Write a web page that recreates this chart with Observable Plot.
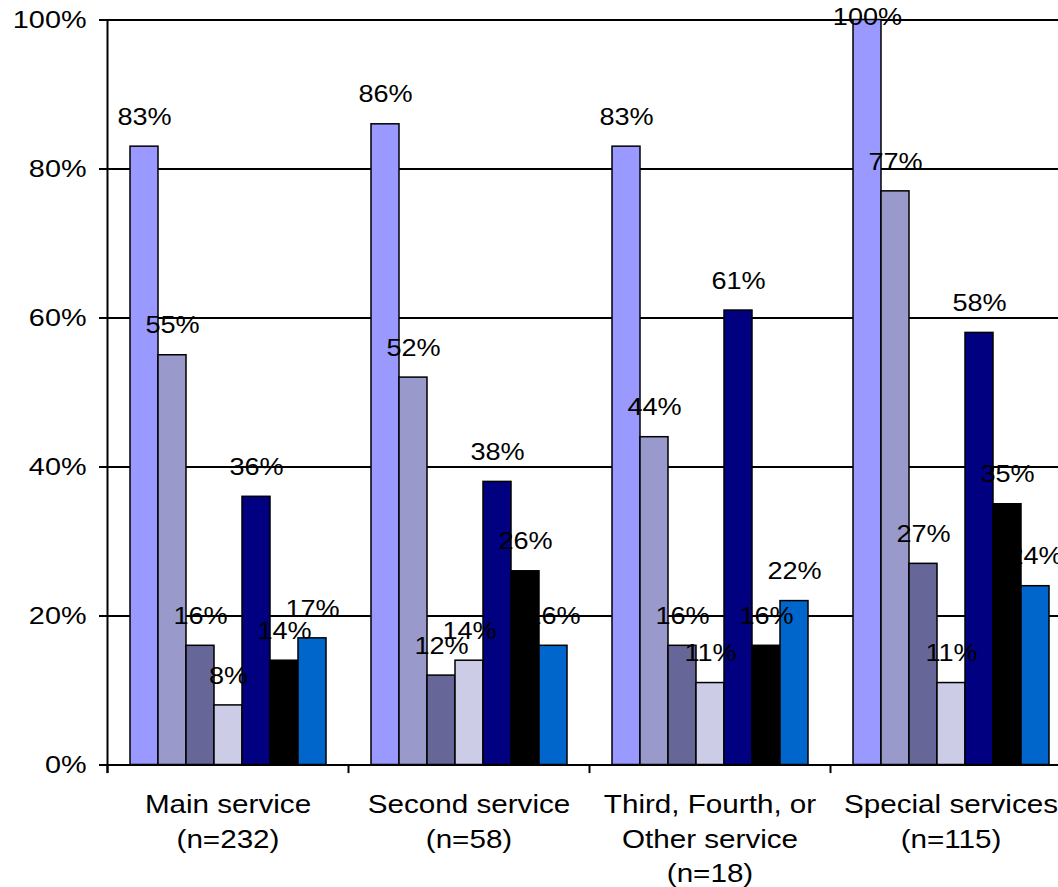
<!DOCTYPE html>
<html><head><meta charset="utf-8">
<script src="https://cdn.jsdelivr.net/npm/d3@7"></script>
<script src="https://cdn.jsdelivr.net/npm/@observablehq/plot@0.6"></script>
<style>html,body{margin:0;padding:0;overflow:hidden;background:#fff}</style>
</head><body><div id="chart"></div>
<script>
const groups = ["Main service", "Second service", "Third, Fourth, or Other service", "Special services"];
const groupLabels = ["Main service\n(n=232)", "Second service\n(n=58)", "Third, Fourth, or\nOther service\n(n=18)", "Special services\n(n=115)"];
const series = ["S1", "S2", "S3", "S4", "S5", "S6", "S7"];
const colors = ["#9999FF", "#9999CC", "#666699", "#CCCCE6", "#000080", "#000000", "#0066CC"];
const mainService = [0.83, 0.55, 0.16, 0.08, 0.36, 0.14, 0.17];
const secondService = [0.86, 0.52, 0.12, 0.14, 0.38, 0.26, 0.16];
const otherService = [0.83, 0.44, 0.16, 0.11, 0.61, 0.16, 0.22];
const specialServices = [1.00, 0.77, 0.27, 0.11, 0.58, 0.35, 0.24];
const yTicks = [0, 0.2, 0.4, 0.6, 0.8, 1];

const valuesByGroup = [mainService, secondService, otherService, specialServices];
const rows = [];
groups.forEach((g, gi) => series.forEach((s, si) => rows.push({group: g, series: s, value: valuesByGroup[gi][si]})));

const W = 1071, ML = 107, MT = 19.5, MB = 122.5, H = 887;
const facetW = (W - ML) / groups.length;

const plot = Plot.plot({
  width: W, height: H,
  marginLeft: ML, marginRight: 0, marginTop: MT, marginBottom: MB,
  style: {fontFamily: "'Liberation Sans', Arial, sans-serif", fontSize: "24px", background: "#fff", color: "#000", overflow: "visible", maxWidth: "none"},
  fx: {domain: groups, padding: 0, axis: null},
  x: {domain: series, paddingInner: 0, paddingOuter: 0.73, axis: null},
  y: {domain: [0, 1], axis: null},
  color: {domain: series, range: colors},
  marks: [
    Plot.gridY(yTicks, {stroke: "#000", strokeOpacity: 1, strokeWidth: 2}),
    Plot.barY(rows, {fx: "group", x: "series", y: "value", fill: "series", stroke: "#000", strokeWidth: 1.5}),
    Plot.text(rows, {fx: "group", x: "series", y: d => Math.min(d.value, 0.964), text: d => `${Math.round(d.value * 100)}%`, dy: -29.5, fontSize: 24, fill: "#000", ariaLabel: () => "value-label"}),
    Plot.ruleX([groups[0]], {fx: d => d, x: null, y1: -0.0115, y2: 1, dx: -facetW / 2, stroke: "#000", strokeWidth: 2}),
    Plot.ruleX(groups, {fx: d => d, x: null, y1: -0.0115, y2: 0, dx: -facetW / 2, stroke: "#000", strokeWidth: 2}),
    Plot.axisY(yTicks, {label: null, tickSize: 8, tickPadding: 13, tickFormat: d => `${Math.round(d * 100)}%`, fontSize: 24, strokeWidth: 2, fill: "#000"}),
    Plot.text(groupLabels, {fx: (d, i) => groups[i], text: d => d, frameAnchor: "bottom", lineAnchor: "top", dy: 23.6, lineHeight: 1.33, fontSize: 26, fill: "#000", ariaLabel: () => "group-label"})
  ]
});

plot.querySelectorAll("text").forEach(t => {
  const lab = t.getAttribute("aria-label") || "";
  const s = lab === "value-label" ? 1.13 : lab === "group-label" ? 1.14 : 1.2;
  let tr = t.getAttribute("transform");
  if (!tr) {
    const x = +t.getAttribute("x") || 0, y = +t.getAttribute("y") || 0;
    t.setAttribute("x", 0); t.setAttribute("y", 0);
    tr = `translate(${x},${y})`;
  }
  t.setAttribute("transform", `${tr} scale(${s},1)`);
});

document.getElementById("chart").appendChild(plot);
</script>
</body></html>
